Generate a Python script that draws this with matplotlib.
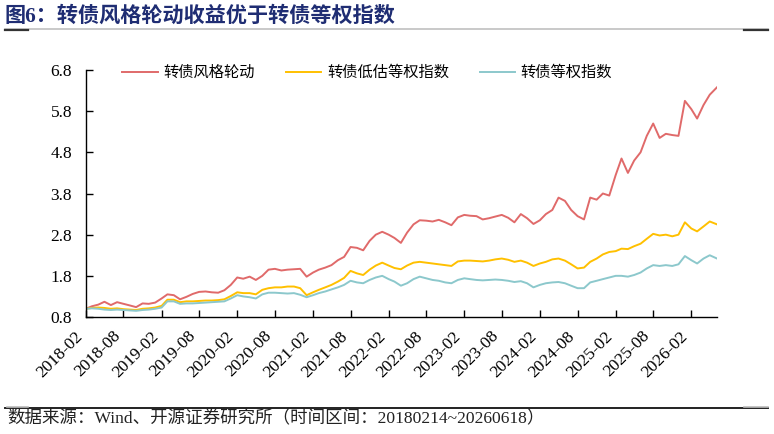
import matplotlib
matplotlib.use("Agg")
import matplotlib.pyplot as plt
import matplotlib.dates as mdates
from matplotlib.lines import Line2D
import pandas as pd

# ---------------- data (monthly) ----------------
months = pd.date_range("2018-02-01", "2026-06-01", freq="MS")

rotation = [1.00, 1.06, 1.10, 1.17, 1.09, 1.16, 1.12, 1.08, 1.04, 1.13,
            1.12, 1.15, 1.25, 1.35, 1.33, 1.23, 1.29, 1.36, 1.41, 1.42,
            1.40, 1.39, 1.45, 1.58, 1.76, 1.73, 1.78, 1.70, 1.80, 1.95,
            1.97, 1.93, 1.95, 1.96, 1.97, 1.78, 1.88, 1.95, 2.00, 2.06,
            2.18, 2.26, 2.50, 2.48, 2.42, 2.65, 2.80, 2.87, 2.80, 2.72,
            2.60, 2.85, 3.05, 3.15, 3.14, 3.12, 3.16, 3.10, 3.03, 3.22,
            3.28, 3.26, 3.25, 3.17, 3.20, 3.24, 3.28, 3.21, 3.10, 3.30,
            3.20, 3.06, 3.15, 3.30, 3.40, 3.70, 3.62, 3.40, 3.25, 3.17,
            3.70, 3.65, 3.80, 3.75, 4.25, 4.65, 4.30, 4.60, 4.80, 5.20,
            5.50, 5.15, 5.25, 5.22, 5.20, 6.05, 5.85, 5.62, 5.95, 6.20,
            6.38]

low_val = [1.00, 1.02, 1.03, 1.02, 1.00, 1.01, 0.99, 0.98, 0.97, 1.00,
           1.01, 1.03, 1.07, 1.22, 1.22, 1.16, 1.18, 1.18, 1.19, 1.20,
           1.20, 1.21, 1.23, 1.31, 1.40, 1.38, 1.38, 1.35, 1.46, 1.50,
           1.52, 1.52, 1.54, 1.54, 1.50, 1.33, 1.40, 1.46, 1.52, 1.58,
           1.66, 1.75, 1.92, 1.86, 1.82, 1.95, 2.05, 2.12, 2.05, 1.99,
           1.96, 2.05, 2.12, 2.14, 2.12, 2.10, 2.08, 2.06, 2.04, 2.15,
           2.17, 2.17, 2.16, 2.15, 2.17, 2.20, 2.22, 2.19, 2.14, 2.17,
           2.12, 2.04, 2.10, 2.14, 2.20, 2.22, 2.17, 2.08, 1.98, 2.00,
           2.14, 2.22, 2.32, 2.38, 2.40, 2.46, 2.45, 2.52, 2.58, 2.70,
           2.82, 2.78, 2.80, 2.76, 2.80, 3.10, 2.95, 2.88, 3.00, 3.12,
           3.05]

equal_w = [1.00, 1.01, 1.00, 0.98, 0.97, 0.98, 0.97, 0.96, 0.95, 0.97,
           0.98, 1.00, 1.03, 1.18, 1.18, 1.12, 1.13, 1.13, 1.14, 1.15,
           1.16, 1.17, 1.18, 1.25, 1.33, 1.30, 1.28, 1.25, 1.35, 1.39,
           1.39, 1.38, 1.37, 1.38, 1.34, 1.28, 1.33, 1.38, 1.42, 1.47,
           1.52, 1.58, 1.68, 1.64, 1.62, 1.70, 1.76, 1.80, 1.72, 1.66,
           1.56, 1.62, 1.72, 1.78, 1.74, 1.70, 1.68, 1.64, 1.62, 1.70,
           1.74, 1.72, 1.70, 1.69, 1.70, 1.71, 1.70, 1.68, 1.65, 1.67,
           1.62, 1.52, 1.58, 1.62, 1.64, 1.65, 1.62, 1.56, 1.50, 1.50,
           1.64, 1.68, 1.72, 1.76, 1.80, 1.80, 1.78, 1.82, 1.88, 1.98,
           2.06, 2.04, 2.06, 2.04, 2.08, 2.28, 2.18, 2.10, 2.22, 2.30,
           2.22]

series_names = ["转债风格轮动", "转债低估等权指数", "转债等权指数"]
series_colors = ["#E06A6A", "#FFC000", "#8CC8CC"]
yticks = [0.8, 1.8, 2.8, 3.8, 4.8, 5.8, 6.8]
start_date, end_date = "2018-02-14", "2026-06-18"
title = "图6：转债风格轮动收益优于转债等权指数"
source = "数据来源：Wind、开源证券研究所（时间区间：20180214~20260618）"

# ---------------- figure ----------------
CJK = ["Liberation Serif", "Noto Sans CJK SC", "DejaVu Sans"]
plt.rcParams["font.family"] = CJK

W, H = 774, 434
fig = plt.figure(figsize=(W / 100, H / 100), dpi=100)
ax = fig.add_axes([86 / W, 1 - 317 / H, (717 - 86) / W, (317 - 70) / H])

dates = list(months + pd.Timedelta(days=13))
dates[0] = pd.Timestamp(start_date)
dates[-1] = pd.Timestamp(end_date)

handles = []
for vals, name, col in zip([rotation, low_val, equal_w], series_names, series_colors):
    ln, = ax.plot(dates, vals, color=col, lw=1.4, label=name)
    handles.append(ln)

ax.set_xlim(pd.Timestamp(start_date), pd.Timestamp(end_date))
ax.set_ylim(yticks[0], yticks[-1])
ax.set_yticks(yticks)
ax.set_yticklabels([f"{v:.1f}" for v in yticks])

ax.xaxis.set_major_locator(mdates.MonthLocator(bymonth=(2, 8), bymonthday=14))
ax.xaxis.set_major_formatter(mdates.DateFormatter("%Y-%m"))
for lab in ax.get_xticklabels():
    lab.set_rotation(45)
    lab.set_ha("right")
    lab.set_va("top")

ax.tick_params(axis="both", direction="in", length=5, width=1, colors="black",
               labelsize=12.5)
ax.tick_params(axis="x", pad=8)
ax.tick_params(axis="y", pad=10)
for s in ["top", "right"]:
    ax.spines[s].set_visible(False)
for s in ["left", "bottom"]:
    ax.spines[s].set_linewidth(1.0)
    ax.spines[s].set_color("black")

leg = ax.legend(handles=handles, loc="center", bbox_to_anchor=(0.446, 0.99),
                ncol=3, frameon=False, handlelength=2.3, handletextpad=0.4,
                columnspacing=2.0, prop={"family": ["Noto Sans CJK SC"], "size": 11})

# title and source
fig.text(5 / W, 1 - 16 / H, title, ha="left", va="center", fontsize=15.2,
         fontweight="bold", color="#1F2D73",
         family=["Liberation Serif", "Noto Sans CJK SC"])
fig.text(7 / W, 1 - 418 / H, source, ha="left", va="center", fontsize=12.6,
         color="#222222", family=["Liberation Serif", "Noto Sans CJK SC"])

# decorative rules
def hline(x0, x1, y, color, lw):
    fig.add_artist(Line2D([x0 / W, x1 / W], [1 - y / H, 1 - y / H],
                          transform=fig.transFigure, color=color, lw=lw))

hline(5, 768, 29, "#C0C0C0", 1.2)
hline(5, 28, 30, "#333333", 1.6)
hline(744, 768, 30, "#333333", 1.6)
hline(5, 768, 408, "#222222", 1.4)
hline(7, 28, 407, "#BBBBBB", 1.2)
hline(744, 768, 407, "#BBBBBB", 1.2)

fig.savefig("out.png", dpi=100)
